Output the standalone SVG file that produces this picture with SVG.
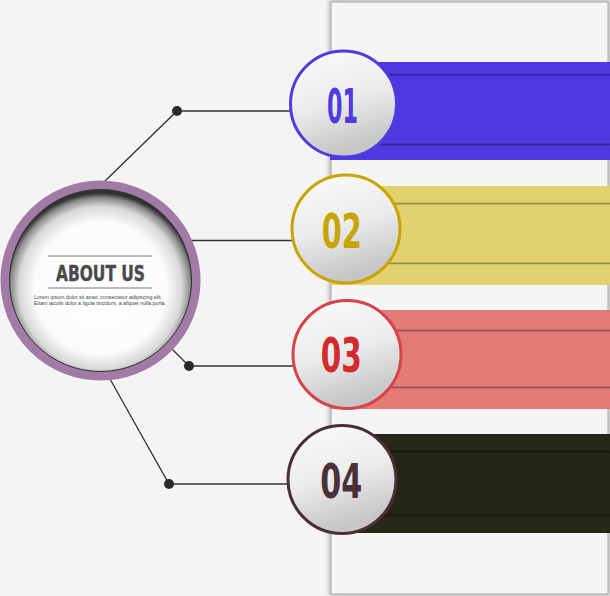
<svg xmlns="http://www.w3.org/2000/svg" width="610" height="596" viewBox="0 0 610 596">
<style>
.conn{stroke:#333;stroke-width:1.3;fill:none}
.dot{fill:#2b2b2b}
.num{font-family:"DejaVu Sans Condensed","DejaVu Sans","Liberation Sans",sans-serif;font-size:48px;font-weight:bold;text-anchor:middle}
.lorem{font-family:"Liberation Sans","DejaVu Sans",sans-serif;font-size:5.6px;fill:#444}
.edge{stroke:#000;stroke-opacity:0.3;stroke-width:1}
</style>
<defs>
<linearGradient id="btn" x1="0" y1="0" x2="0.3" y2="1">
<stop offset="0" stop-color="#fbfbfb"/>
<stop offset="0.55" stop-color="#ececec"/>
<stop offset="1" stop-color="#c6c6c6"/>
</linearGradient>
<radialGradient id="inner" cx="50%" cy="54%" r="52%">
<stop offset="0" stop-color="#ffffff"/>
<stop offset="0.7" stop-color="#fbfbfb"/>
<stop offset="0.86" stop-color="#d8d8d8"/>
<stop offset="0.95" stop-color="#8a8a8a"/>
<stop offset="1" stop-color="#333"/>
</radialGradient>
<filter id="sh" x="-5%" y="-30%" width="110%" height="160%">
<feDropShadow dx="0" dy="0" stdDeviation="1.8" flood-color="#000" flood-opacity="0.6"/>
</filter>
<filter id="panelsh" x="-5%" y="-5%" width="110%" height="110%">
<feGaussianBlur stdDeviation="2"/>
</filter>
</defs>
<rect width="610" height="596" fill="#f4f4f4"/>
<g id="panel">
<rect x="331" y="2" width="277" height="592" fill="none" stroke="#9a9a9a" stroke-width="3" filter="url(#panelsh)"/>
<rect x="331" y="2" width="277" height="592" fill="#f5f5f5" stroke="#b5b5b5" stroke-width="1.2"/>
</g>
<g id="bands">
<g id="band01">
<rect x="330" y="62" width="280" height="98" fill="#5039e0"/>
<rect x="330" y="75" width="282" height="69" fill="#5039e0" filter="url(#sh)"/>
<line class="edge" x1="330" y1="75" x2="610" y2="75"/>
<line class="edge" x1="330" y1="144" x2="610" y2="144"/>
</g>
<g id="band02">
<rect x="330" y="186" width="280" height="99" fill="#e2d26e"/>
<rect x="330" y="204" width="282" height="59" fill="#e2d26e" filter="url(#sh)"/>
<line class="edge" x1="330" y1="204" x2="610" y2="204"/>
<line class="edge" x1="330" y1="263" x2="610" y2="263"/>
</g>
<g id="band03">
<rect x="330" y="310" width="280" height="99" fill="#e37b79"/>
<rect x="330" y="331" width="282" height="56" fill="#e37b79" filter="url(#sh)"/>
<line class="edge" x1="330" y1="331" x2="610" y2="331"/>
<line class="edge" x1="330" y1="387" x2="610" y2="387"/>
</g>
<g id="band04">
<rect x="330" y="434" width="280" height="99" fill="#262819"/>
<rect x="330" y="452" width="282" height="63" fill="#262819" filter="url(#sh)"/>
<line class="edge" x1="330" y1="452" x2="610" y2="452"/>
<line class="edge" x1="330" y1="515" x2="610" y2="515"/>
</g>
</g>
<g id="connectors">
<polyline class="conn" points="104,182 177,111 292,111"/>
<line class="conn" x1="190" y1="240.5" x2="292" y2="240.5"/>
<polyline class="conn" points="172,349 189,366 293,366"/>
<polyline class="conn" points="110,379 169,484 289,484"/>
<circle class="dot" cx="177" cy="111" r="5"/>
<circle class="dot" cx="189" cy="366" r="5"/>
<circle class="dot" cx="169" cy="484" r="5"/>
</g>
<g id="about">
<circle cx="100.5" cy="280.5" r="95.5" fill="none" stroke="#a27aa6" stroke-width="9"/>
<circle cx="100.5" cy="280.5" r="91" fill="url(#inner)"/>
<circle cx="100.5" cy="280.5" r="91" fill="none" stroke="#2a2a2a" stroke-width="1"/>
<line x1="48" y1="256" x2="152" y2="256" stroke="#7a7a7a" stroke-width="1"/>
<line x1="48" y1="288" x2="152" y2="288" stroke="#7a7a7a" stroke-width="1"/>
<text x="100.5" y="281" text-anchor="middle" font-family="DejaVu Sans Condensed,DejaVu Sans,Liberation Sans,sans-serif" font-weight="bold" font-size="21" fill="#4a4a4a" stroke="#4a4a4a" stroke-width="0.4" textLength="89" lengthAdjust="spacingAndGlyphs">ABOUT US</text>
<text class="lorem" x="34" y="298.5" textLength="128" lengthAdjust="spacingAndGlyphs">Lorem ipsum dolor sit amet, consectetur adipiscing elit.</text>
<text class="lorem" x="34" y="305" textLength="132" lengthAdjust="spacingAndGlyphs">Etiam iaculis dolor a ligula tincidunt, a aliquet nulla porta.</text>
</g>
<g id="n01">
<circle cx="343.5" cy="104" r="53" fill="url(#btn)" stroke="#4f3be0" stroke-width="3"/>
<text class="num" x="342.5" y="123" fill="#4f3be0" textLength="31" lengthAdjust="spacingAndGlyphs">01</text>
</g>
<g id="n02">
<circle cx="346" cy="229" r="54" fill="url(#btn)" stroke="#c9a400" stroke-width="3"/>
<text class="num" x="341.7" y="247.5" fill="#c9a400" textLength="40" lengthAdjust="spacingAndGlyphs">02</text>
</g>
<g id="n03">
<circle cx="347" cy="354.5" r="54" fill="url(#btn)" stroke="#d6434a" stroke-width="3"/>
<text class="num" x="341.3" y="371.5" fill="#d42a2e" textLength="41" lengthAdjust="spacingAndGlyphs">03</text>
</g>
<g id="n04">
<circle cx="342" cy="479.5" r="54" fill="url(#btn)" stroke="#4a2f38" stroke-width="3"/>
<text class="num" x="341.3" y="497.5" fill="#4a3039" textLength="42" lengthAdjust="spacingAndGlyphs">04</text>
</g>
</svg>
